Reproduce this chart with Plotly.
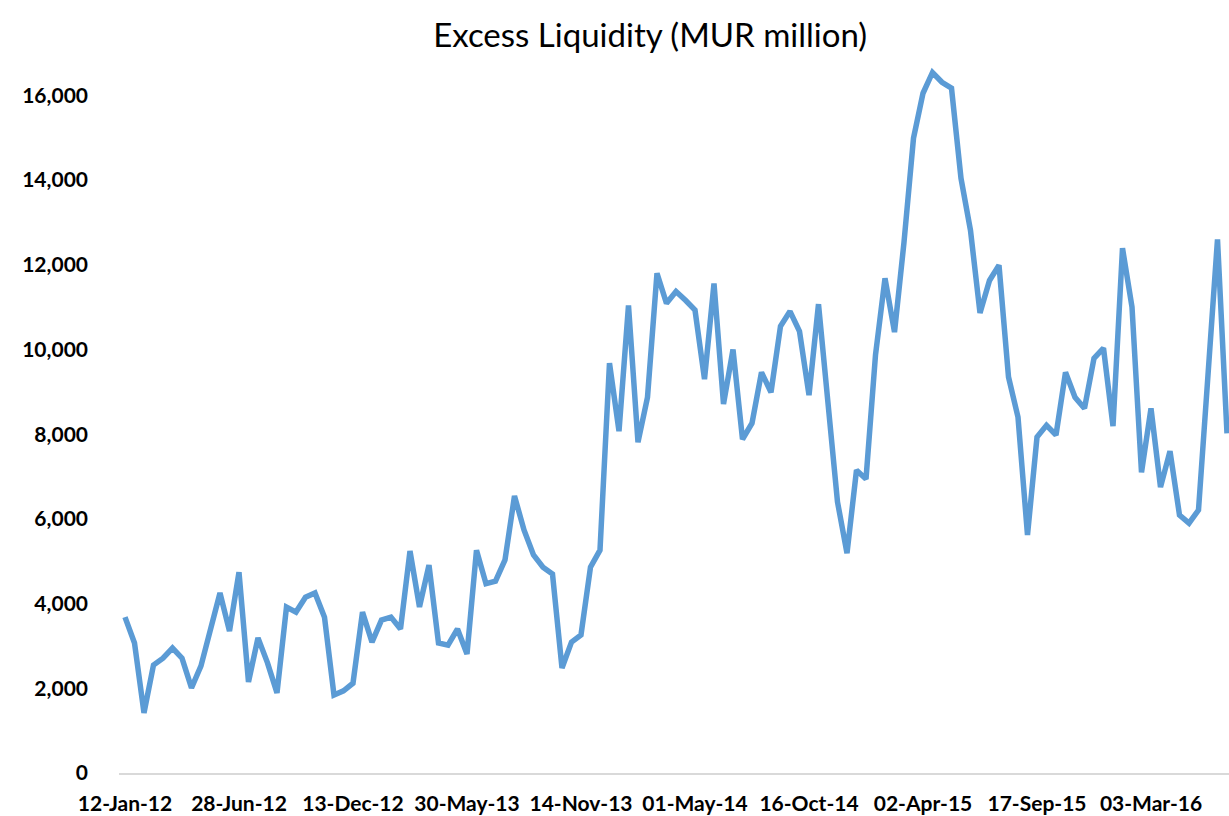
import datetime as dt
import plotly.graph_objects as go

start_date = dt.date(2012, 1, 12)
step_days = 14

excess_liquidity = [
    3680, 3070, 1420, 2550, 2710, 2950, 2710, 2010, 2530, 3380,
    4250, 3350, 4740, 2150, 3190, 2600, 1890, 3920, 3800, 4150,
    4250, 3680, 1840, 1940, 2120, 3800, 3090, 3610, 3680, 3400,
    5240, 3920, 4910, 3070, 3020, 3400, 2810, 5260, 4470, 4530,
    5030, 6540, 5740, 5150, 4860, 4700, 2480, 3090, 3260, 4860,
    5260, 9680, 8070, 11040, 7810, 8870, 11800, 11090, 11370, 11160,
    10930, 9300, 11560, 8710, 10000, 7880, 8260, 9460, 8990, 10550,
    10900, 10430, 8920, 11070, 8800, 6400, 5190, 7150, 6940, 9870,
    11680, 10410, 12530, 14990, 16050, 16540, 16310, 16170, 14040, 12810,
    10860, 11630, 11990, 9350, 8400, 5620, 7930, 8210, 7980, 9460,
    8870, 8610, 9790, 10030, 8190, 12390, 11000, 7100, 8610, 6750,
    7600, 6090, 5900, 6210, 9400, 12600, 8020,
]

dates = [(start_date + dt.timedelta(days=step_days * i)).strftime("%d-%b-%y")
         for i in range(len(excess_liquidity))]
tick_labels = dates[::12]

y_ticks = [0, 2000, 4000, 6000, 8000, 10000, 12000, 14000, 16000]
y_tick_text = [f"{v:,}" for v in y_ticks]

fig = go.Figure()
fig.add_trace(go.Scatter(
    x=list(range(len(dates))),
    y=excess_liquidity,
    mode="lines",
    line=dict(color="#5B9BD5", width=5.5),
    hoverinfo="skip",
))

fig.update_layout(
    width=1229, height=816,
    margin=dict(l=119, r=0, t=53, b=43),
    paper_bgcolor="white", plot_bgcolor="white",
    showlegend=False,
    title=dict(text="Excess Liquidity (MUR million)", x=0.529, xanchor="center",
               y=0.957, yanchor="middle",
               font=dict(family="Lato", size=33, color="#000000")),
    font=dict(family="Lato", color="#000000"),
)

fig.update_xaxes(
    range=[-0.63, len(dates) - 1 + 0.21],
    tickmode="array",
    tickvals=list(range(0, len(dates), 12)),
    ticktext=tick_labels,
    showgrid=False, zeroline=False,
    showline=True, linecolor="#D9D9D9", linewidth=1.5,
    ticks="", ticklabelstandoff=11,
    tickfont=dict(family="Lato", size=21, color="#000000", weight="bold"),
)
fig.update_yaxes(
    range=[0, 17000],
    tickmode="array", tickvals=y_ticks, ticktext=y_tick_text,
    showgrid=False, zeroline=False, showline=False,
    ticks="", ticklabelstandoff=30,
    tickfont=dict(family="Lato", size=21, color="#000000", weight="bold"),
)

fig.write_html(
    "out.html",
    config={"displayModeBar": False},
    post_script="document.body.style.margin='0';document.body.style.overflow='hidden';",
)
